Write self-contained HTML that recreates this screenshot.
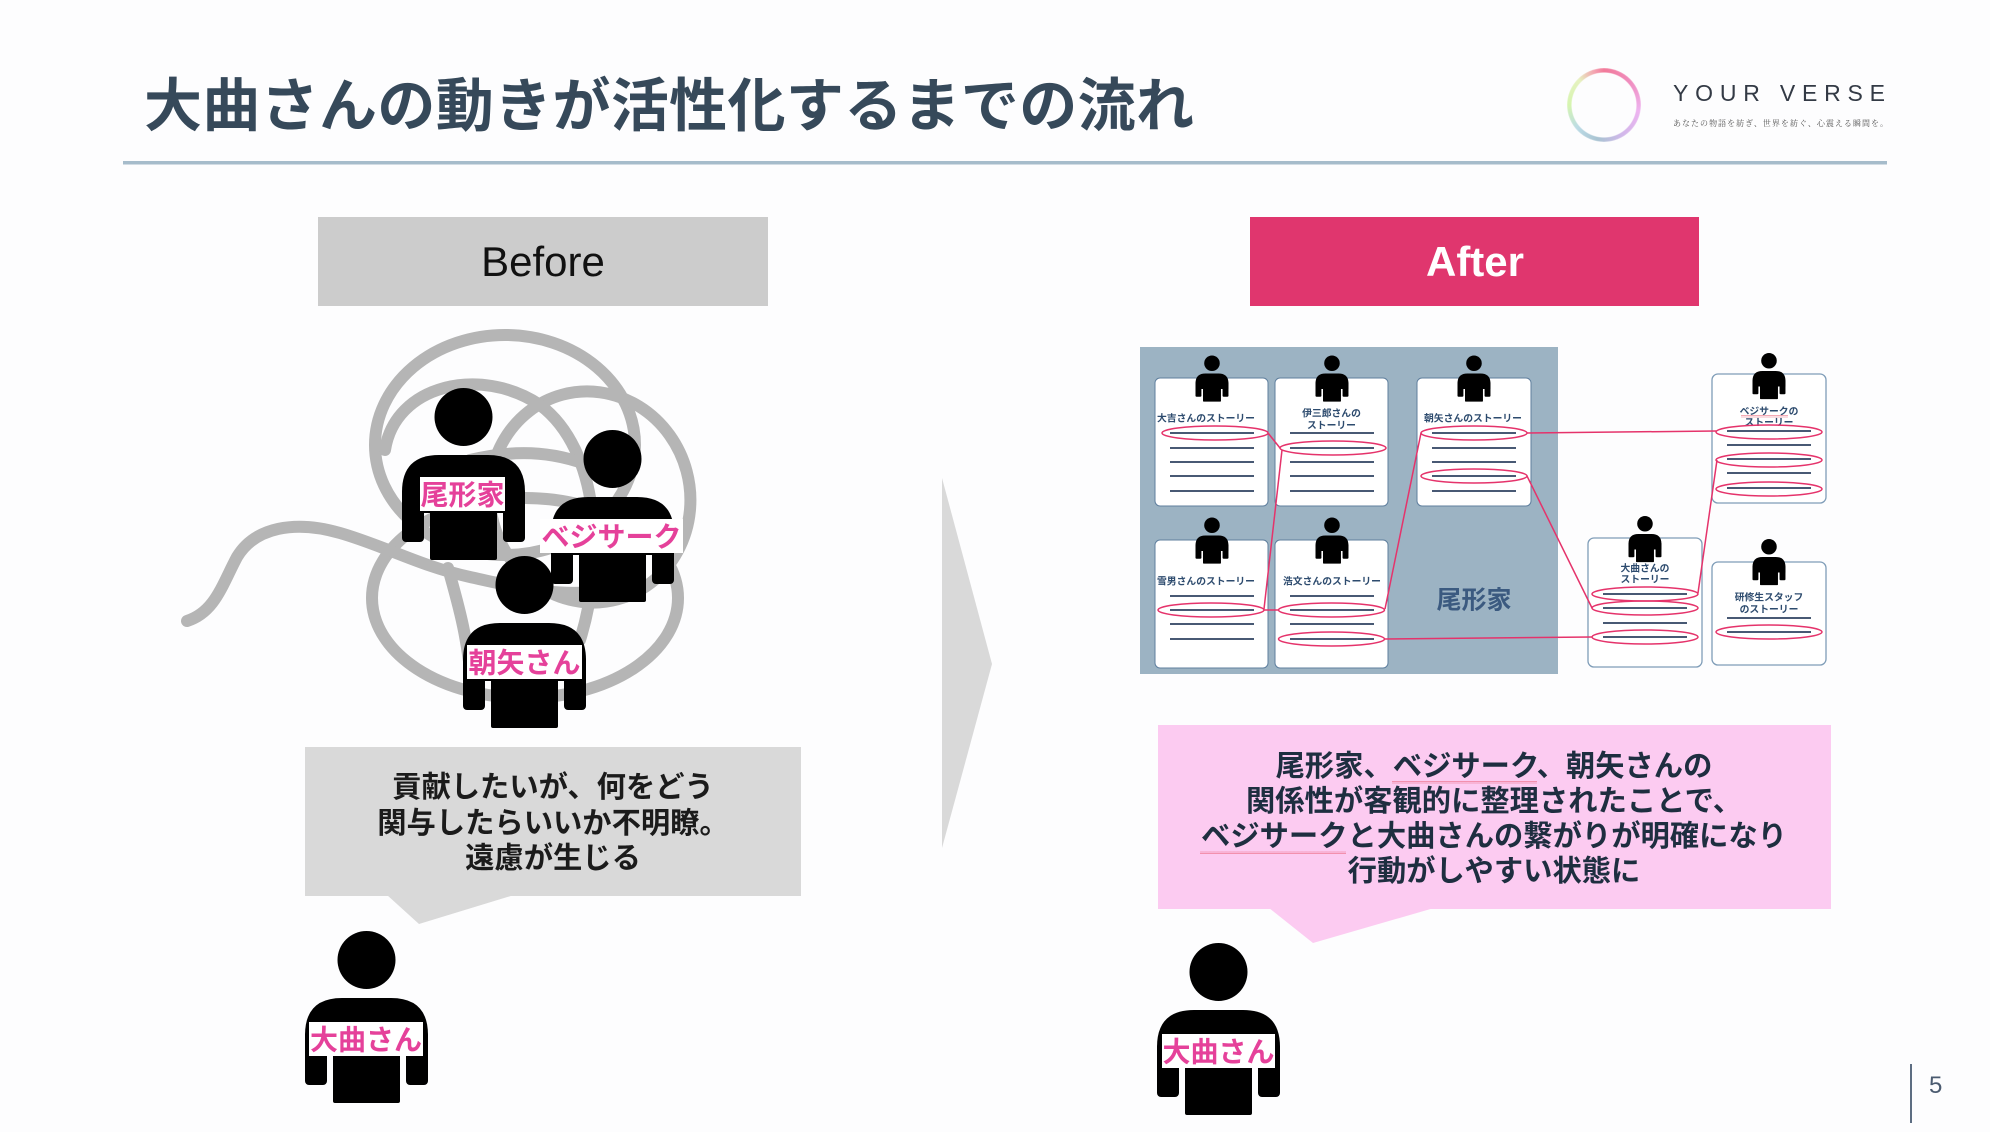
<!DOCTYPE html>
<html lang="ja">
<head>
<meta charset="utf-8">
<style>
  html,body{margin:0;padding:0;background:#fdfdfe;}
  #page{position:relative;width:1990px;height:1132px;overflow:hidden;background:#fdfdfe;
        font-family:"Liberation Sans","Noto Sans CJK JP",sans-serif;}
  svg{position:absolute;left:0;top:0;}
  .logo{position:absolute;left:1567px;top:68px;width:74px;height:74px;border-radius:50%;
        background:conic-gradient(from 0deg,#f27a9a 0deg,#f08ec0 50deg,#eeb4f0 100deg,#d0b8ea 150deg,#a9c3d2 190deg,#bcdce6 230deg,#d6f5b0 270deg,#e6f2c0 315deg,#f4a0b0 345deg,#f27a9a 360deg);
        -webkit-mask:radial-gradient(circle,transparent 32px,#000 33px);
        mask:radial-gradient(circle,transparent 32px,#000 33px);filter:blur(0.4px);}
</style>
</head>
<body>
<div id="page">
<svg width="1990" height="1132" viewBox="0 0 1990 1132" xmlns="http://www.w3.org/2000/svg"
     font-family="'Liberation Sans','Noto Sans CJK JP',sans-serif">
  <defs>
    <g id="p">
      <circle cx="61.5" cy="29" r="29"/>
      <path d="M0 104 Q0 67 37 67 H86 Q123 67 123 104 V125 H0 Z"/>
      <rect x="0" y="100" width="22" height="54" rx="4"/>
      <rect x="101" y="100" width="22" height="54" rx="4"/>
      <rect x="28" y="100" width="67" height="72" rx="2"/>
    </g>
    <pattern id="wave" width="4" height="3" patternUnits="userSpaceOnUse">
      <path d="M0 2.5 L1 0.5 L2 2.5 L3 0.5 L4 2.5" stroke="#e8556a" stroke-width="0.5" fill="none"/>
    </pattern>
  </defs>

  <!-- Title -->
  <text x="144" y="126" font-size="58" font-weight="700" fill="#36495a" textLength="1050" lengthAdjust="spacing">大曲さんの動きが活性化するまでの流れ</text>
  <rect x="123" y="161" width="1764" height="3.5" fill="#a6bccb"/>

  <!-- Logo text -->
  <text x="1673" y="101" font-size="23" fill="#333a45" textLength="212" lengthAdjust="spacing">YOUR VERSE</text>
  <text x="1673" y="126" font-size="8" fill="#555" font-family="'Noto Serif CJK SC','Noto Serif CJK JP',serif" textLength="215" lengthAdjust="spacing">あなたの物語を紡ぎ、世界を紡ぐ、心震える瞬間を。</text>

  <!-- Before / After headers -->
  <rect x="318" y="217" width="450" height="89" fill="#cccccc"/>
  <text x="543" y="276" font-size="42" fill="#111" text-anchor="middle">Before</text>
  <rect x="1250" y="217" width="449" height="89" fill="#e0366e"/>
  <text x="1475" y="276" font-size="42" font-weight="700" fill="#ffffff" text-anchor="middle">After</text>

  <!-- Big arrow -->
  <polygon points="942,478 992,664 942,848" fill="#d9d9d9"/>

  <!-- Tangle -->
  <g stroke="#b5b5b5" stroke-width="12" fill="none" stroke-linecap="round">
    <ellipse cx="505" cy="445" rx="130" ry="110"/>
    <ellipse cx="590" cy="497" rx="100" ry="106" transform="rotate(-15 590 497)"/>
    <ellipse cx="525" cy="598" rx="153" ry="100"/>
    <path d="M385 450 C395 385 480 365 540 405 C600 450 605 560 580 640"/>
    <path d="M470 460 C520 448 560 452 600 470"/>
    <path d="M448 568 C460 610 468 640 472 690"/>
    <path d="M187 621 C215 612 222 585 237 557 C255 527 295 520 340 533 C385 546 420 566 470 577 C520 588 560 598 610 590"/>
  </g>

  <!-- Before persons -->
  <use href="#p" transform="translate(402,388)"/>
  <rect x="420" y="477" width="85" height="34" fill="#fff"/>
  <text x="462.5" y="504.6" font-size="28" font-weight="700" fill="#e5419a" text-anchor="middle">尾形家</text>

  <use href="#p" transform="translate(551,430)"/>
  <rect x="540" y="519" width="143" height="34" fill="#fff"/>
  <text x="611.5" y="546.6" font-size="28" font-weight="700" fill="#e5419a" text-anchor="middle">ベジサーク</text>

  <use href="#p" transform="translate(463,556)"/>
  <rect x="467" y="645" width="115" height="34" fill="#fff"/>
  <text x="524.5" y="672.6" font-size="28" font-weight="700" fill="#e5419a" text-anchor="middle">朝矢さん</text>

  <!-- Left bubble -->
  <rect x="305" y="747" width="496" height="149" fill="#d9d9d9"/>
  <polygon points="387,895 419,924 514,895" fill="#d9d9d9"/>
  <g font-size="29.3" font-weight="700" fill="#1b1b1b" text-anchor="middle">
    <text x="553" y="797">貢献したいが、何をどう</text>
    <text x="553" y="833">関与したらいいか不明瞭。</text>
    <text x="553" y="868">遠慮が生じる</text>
  </g>

  <!-- Left person -->
  <use href="#p" transform="translate(305,931)"/>
  <rect x="309" y="1022" width="114" height="34" fill="#fff"/>
  <text x="366" y="1049.6" font-size="28" font-weight="700" fill="#e5419a" text-anchor="middle">大曲さん</text>

  <!-- After panel -->
  <rect x="1140" y="347" width="418" height="327" fill="#9cb3c3"/>
  <g fill="#ffffff" stroke="#5f7f9e" stroke-width="1">
    <rect x="1155" y="378" width="113" height="128" rx="5"/>
    <rect x="1275" y="378" width="113" height="128" rx="5"/>
    <rect x="1417" y="378" width="114" height="128" rx="5"/>
    <rect x="1155" y="540" width="113" height="128" rx="5"/>
    <rect x="1275" y="540" width="113" height="128" rx="5"/>
  </g>
  <g fill="#ffffff" stroke="#7f9db8" stroke-width="1.3">
    <rect x="1712" y="374" width="114" height="129" rx="6"/>
    <rect x="1588" y="538" width="114" height="129" rx="6"/>
    <rect x="1712" y="562" width="114" height="103" rx="6"/>
  </g>
  <text x="1474" y="608.5" font-size="25" font-weight="700" fill="#3b5a80" text-anchor="middle">尾形家</text>

  <!-- small icons -->
  <g>
    <use href="#p" transform="translate(1195.5,355.5) scale(0.268)"/>
    <use href="#p" transform="translate(1315.5,355.5) scale(0.268)"/>
    <use href="#p" transform="translate(1457.5,355.5) scale(0.268)"/>
    <use href="#p" transform="translate(1195.5,517.5) scale(0.268)"/>
    <use href="#p" transform="translate(1315.5,517.5) scale(0.268)"/>
    <use href="#p" transform="translate(1752.5,353) scale(0.268)"/>
    <use href="#p" transform="translate(1628.5,516) scale(0.268)"/>
    <use href="#p" transform="translate(1752.5,539) scale(0.268)"/>
  </g>

  <!-- card titles -->
  <g font-size="9.8" font-weight="700" fill="#2d4b6e" text-anchor="middle">
    <text x="1206" y="421.7">大吉さんのストーリー</text>
    <text x="1331.5" y="416.7">伊三郎さんの</text>
    <text x="1331.5" y="428.7">ストーリー</text>
    <text x="1473" y="421.7">朝矢さんのストーリー</text>
    <text x="1206" y="584.7">雪男さんのストーリー</text>
    <text x="1332" y="584.7">浩文さんのストーリー</text>
    <text x="1769" y="414.7">ベジサークの</text>
    <text x="1769" y="425.7">ストーリー</text>
    <text x="1645" y="571.7">大曲さんの</text>
    <text x="1645" y="582.7">ストーリー</text>
    <text x="1769" y="600.7">研修生スタッフ</text>
    <text x="1769" y="612.7">のストーリー</text>
  </g>
  <rect x="1741" y="415" width="47" height="3" fill="url(#wave)"/>

  <!-- card lines -->
  <g stroke="#2e4260" stroke-width="1.8">
    <path d="M1170 433H1254M1170 448H1254M1170 462H1254M1170 476H1254M1170 491H1254"/>
    <path d="M1290 433H1374M1290 448H1374M1290 462H1374M1290 476H1374M1290 491H1374"/>
    <path d="M1432 433H1516M1432 448H1516M1432 462H1516M1432 476H1516M1432 491H1516"/>
    <path d="M1170 596H1254M1170 610H1254M1170 624H1254M1170 639H1254"/>
    <path d="M1290 596H1374M1290 610H1374M1290 624H1374M1290 639H1374"/>
    <path d="M1727 431H1811M1727 445H1811M1727 459H1811M1727 473H1811M1727 488H1811"/>
    <path d="M1603 594H1687M1603 608H1687M1603 623H1687M1603 637H1687"/>
    <path d="M1727 618H1811M1727 632H1811"/>
  </g>

  <!-- ellipses -->
  <g stroke="#e5336b" stroke-width="1.5" fill="none">
    <ellipse cx="1215" cy="433" rx="53" ry="7"/>
    <ellipse cx="1333" cy="448" rx="53" ry="7"/>
    <ellipse cx="1474" cy="433" rx="53" ry="7"/>
    <ellipse cx="1474" cy="476" rx="53" ry="7"/>
    <ellipse cx="1211" cy="610" rx="53" ry="7"/>
    <ellipse cx="1331.5" cy="610" rx="53" ry="7"/>
    <ellipse cx="1331.5" cy="639" rx="53" ry="7"/>
    <ellipse cx="1769" cy="432" rx="53" ry="7"/>
    <ellipse cx="1769" cy="460" rx="53" ry="7"/>
    <ellipse cx="1769" cy="489" rx="53" ry="7"/>
    <ellipse cx="1645" cy="594" rx="53" ry="7"/>
    <ellipse cx="1645" cy="608" rx="53" ry="7"/>
    <ellipse cx="1645" cy="637" rx="53" ry="7"/>
    <ellipse cx="1769" cy="632" rx="53" ry="7"/>
    <!-- connectors -->
    <path d="M1268 433L1280 448"/>
    <path d="M1282 450L1264 609"/>
    <path d="M1264 610L1278 610"/>
    <path d="M1385 609L1421 433"/>
    <path d="M1527 433L1716 431"/>
    <path d="M1527 476L1592 608"/>
    <path d="M1385 639L1592 637"/>
    <path d="M1698 593L1717 460"/>
  </g>

  <!-- Right bubble -->
  <rect x="1158" y="725" width="673" height="184" fill="#fccbf1"/>
  <polygon points="1269,908 1313,943 1434,908" fill="#fccbf1"/>
  <g font-size="29.3" font-weight="700" fill="#1e2e40" text-anchor="middle">
    <text x="1494" y="776">尾形家、ベジサーク、朝矢さんの</text>
    <text x="1494" y="811">関係性が客観的に整理されたことで、</text>
    <text x="1494" y="846">ベジサークと大曲さんの繋がりが明確になり</text>
    <text x="1494" y="881">行動がしやすい状態に</text>
  </g>
  <rect x="1392" y="781" width="145" height="3" fill="url(#wave)"/>
  <rect x="1200" y="851" width="146" height="3" fill="url(#wave)"/>

  <!-- Right person -->
  <use href="#p" transform="translate(1157,943)"/>
  <rect x="1162" y="1034" width="113" height="34" fill="#fff"/>
  <text x="1218.5" y="1061.6" font-size="28" font-weight="700" fill="#e5419a" text-anchor="middle">大曲さん</text>

  <!-- Page number -->
  <rect x="1910" y="1064" width="2" height="59" fill="#5d6d82"/>
  <text x="1929" y="1093" font-size="24" fill="#4b5b70">5</text>
</svg>
<div class="logo"></div>
</div>
</body>
</html>
